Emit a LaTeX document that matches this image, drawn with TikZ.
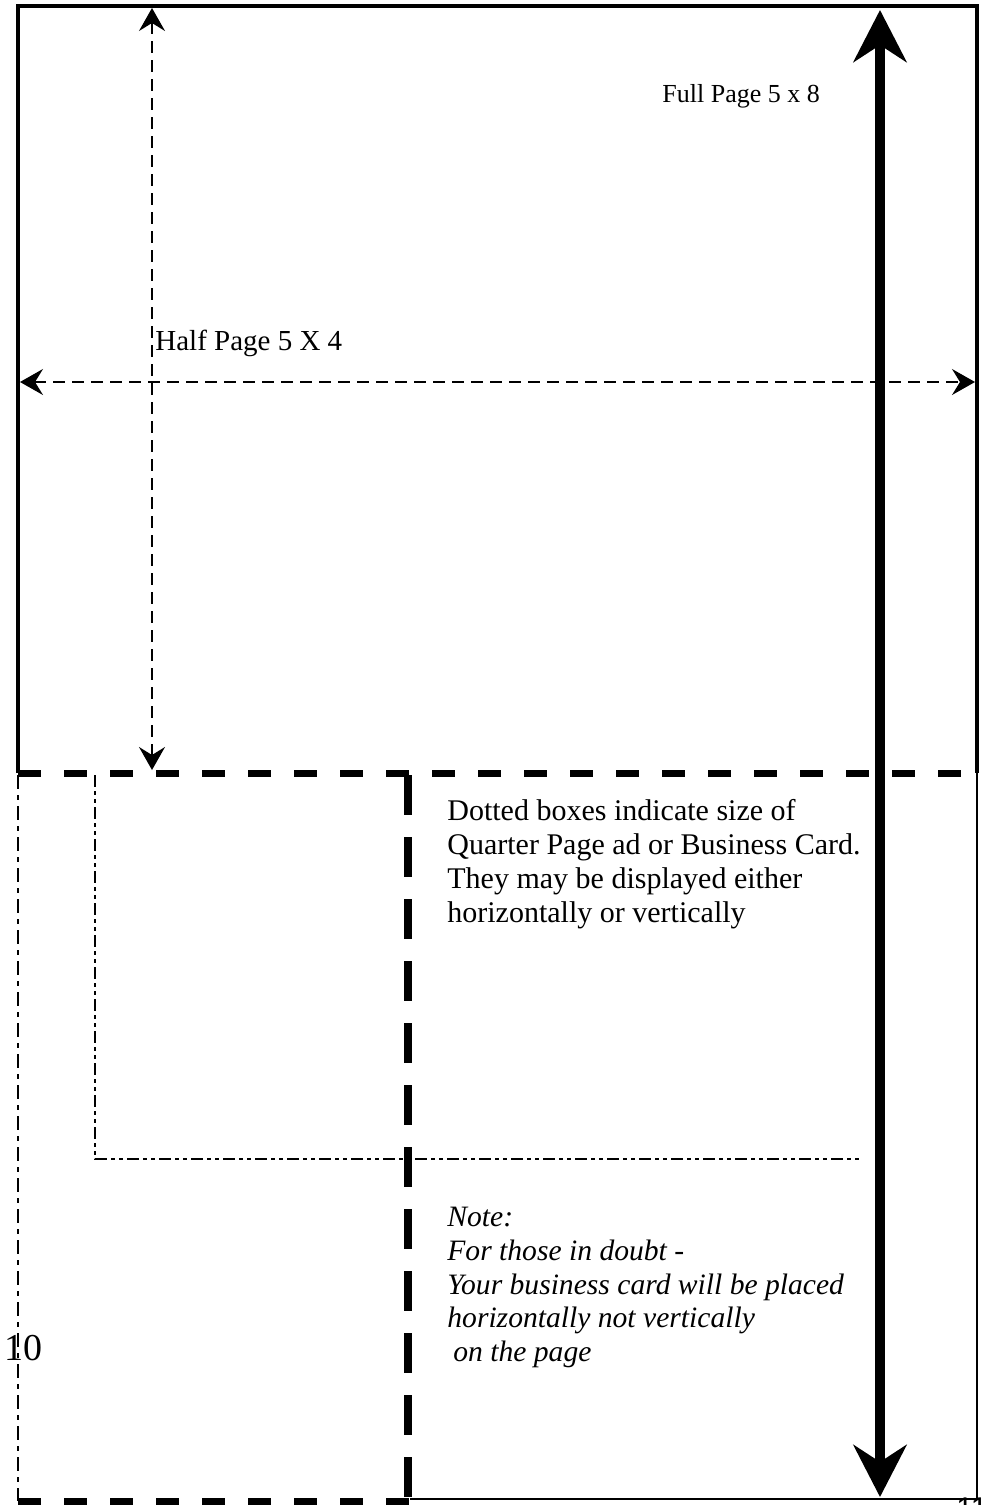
\documentclass[tikz,border=0pt]{standalone}
\usepackage{fontspec}
\setmainfont{Liberation Serif}
\newfontfamily\pagenumfont{Liberation Sans}
\usetikzlibrary{arrows.meta}
\tikzstyle{frame} = [line width=2pt]
\tikzstyle{thinline} = [line width=1pt]
\tikzstyle{bigdash} = [line width=3.5pt, dash pattern=on 11.5pt off 11.5pt]
\tikzstyle{middash} = [line width=4pt, dash pattern=on 20pt off 11pt]
\tikzstyle{dashdot} = [line width=1pt, dash pattern=on 7pt off 3pt on 2.5pt off 3pt]
\tikzstyle{dashdotdot} = [line width=1pt, dash pattern=on 6pt off 2pt on 2pt off 2pt on 2pt off 2pt]
\tikzstyle{measure} = [line width=0.8pt, dash pattern=on 6pt off 3.5pt, {Stealth[length=11.5pt,width=13pt,inset=4pt]}-{Stealth[length=11.5pt,width=13pt,inset=4pt]}]
\tikzstyle{fullarrow} = [line width=5pt, {Stealth[length=26pt,width=26.5pt,inset=8.5pt]}-{Stealth[length=26pt,width=26.5pt,inset=8.5pt]}]
\tikzstyle{sizetext} = [inner sep=0pt, anchor=base west]
\tikzstyle{notetext} = [inner sep=0pt, anchor=north west, align=left, font=\fontsize{15}{17}\selectfont]

\begin{document}
\begin{tikzpicture}[x=0.5pt, y=-0.5pt]
		\clip (0,0) rectangle (989,1505);
		% half page frame
		\draw [frame] (18,773) -- (18,6) -- (977,6) -- (977,773);
		\draw [bigdash] (18,773) -- (977,773);
		% lower half
		\draw [thinline] (977,773) -- (977,1499) -- (410,1499);
		\draw [bigdash] (18,1501) -- (410,1501);
		\draw [dashdot] (18,775) -- (18,1501);
		\draw [middash] (408,775) -- (408,1498);
		\draw [dashdotdot] (95,775) -- (95,1159) -- (862,1159);

		\coordinate (halftop) at (152,8);
		\coordinate (halfbot) at (152,770);
		\coordinate (widthleft) at (20,382);
		\coordinate (widthright) at (975,382);
		\coordinate (fulltop) at (880,10);
		\coordinate (fullbot) at (880,1497);

		\node (full) [sizetext, font=\fontsize{13}{15}\selectfont] at (662,102) {Full Page 5 x 8};
		\node (half) [sizetext, font=\fontsize{14.5}{17}\selectfont] at (155,350) {Half Page 5 X 4};
		\node (dotted) [notetext] at (447,799) {Dotted boxes indicate size of\\Quarter Page ad or Business Card.\\They may be displayed either\\horizontally or vertically};
		\node (note) [notetext, font=\fontsize{14.8}{16.8}\selectfont\itshape] at (447,1207) {Note:\\For those in doubt -\\Your business card will be placed\\horizontally not vertically\\\hspace{3pt}on the page};
		\node (ten) [sizetext, font=\fontsize{19}{22}\selectfont] at (4,1360) {10};
		\node (eleven) [sizetext, font=\pagenumfont\fontsize{15}{18}\selectfont] at (956,1518) {11};

		\draw [measure] (halftop) -- (halfbot);
		\draw [measure] (widthleft) -- (widthright);
		\draw [fullarrow] (fulltop) -- (fullbot);
		\end{tikzpicture}
\end{document}
